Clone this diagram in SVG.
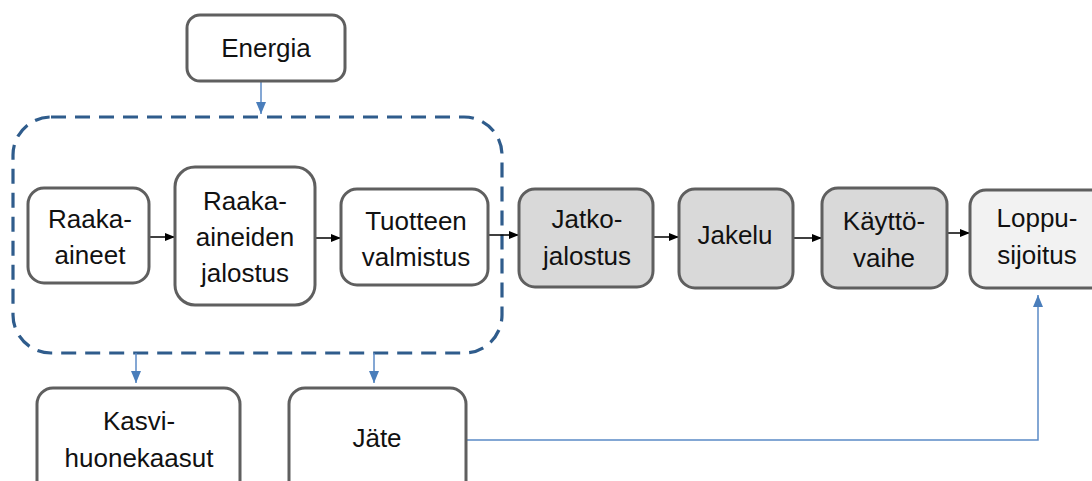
<svg xmlns="http://www.w3.org/2000/svg" width="1092" height="481" viewBox="0 0 1092 481">
<defs>
<style>
.box{stroke:#5f5f5f;stroke-width:3;}
.w{fill:#ffffff;}
.g{fill:#d9d9d9;}
.l{fill:#f2f2f2;}
text{font-family:"Liberation Sans",Arial,sans-serif;font-size:26px;fill:#111;text-anchor:middle;}
.blk{stroke:#000;stroke-width:1.5;fill:none;}
.blu{stroke:#5b8ac6;stroke-width:1.5;fill:none;}
</style>
<marker id="ab" markerUnits="userSpaceOnUse" markerWidth="10" markerHeight="10" viewBox="0 0 10 10" refX="10" refY="5" orient="auto">
<path d="M0,1 L10,5 L0,9 Z" fill="#000"/>
</marker>
<marker id="au" markerUnits="userSpaceOnUse" markerWidth="12" markerHeight="12" viewBox="0 0 12 12" refX="12" refY="6" orient="auto">
<path d="M0,1 L12,6 L0,11 Z" fill="#4a7ebb"/>
</marker>
</defs>
<rect width="1092" height="481" fill="#fff"/>
<g id="boundary">
<rect x="13" y="117" width="489" height="236" rx="38" ry="38" fill="none" stroke="#2f5c8c" stroke-width="3.2" stroke-dasharray="15 9"/>
</g>
<g id="connectors">
<line class="blu" x1="261" y1="81" x2="261" y2="114" marker-end="url(#au)"/>
<line class="blu" x1="136" y1="353" x2="136" y2="383" marker-end="url(#au)"/>
<line class="blu" x1="374" y1="353" x2="374" y2="383" marker-end="url(#au)"/>
<polyline class="blu" points="466,440 1038,440 1038,295" marker-end="url(#au)"/>
<line class="blk" x1="149" y1="237" x2="175" y2="237" marker-end="url(#ab)"/>
<line class="blk" x1="315" y1="238" x2="341" y2="238" marker-end="url(#ab)"/>
<line class="blk" x1="488" y1="235" x2="519" y2="235" marker-end="url(#ab)"/>
<line class="blk" x1="653" y1="237" x2="679" y2="237" marker-end="url(#ab)"/>
<line class="blk" x1="793" y1="238" x2="822" y2="238" marker-end="url(#ab)"/>
<line class="blk" x1="947" y1="233" x2="970" y2="233" marker-end="url(#ab)"/>
</g>
<g id="energia">
<rect class="box w" x="187" y="15" width="158" height="66" rx="13"/>
<text x="266" y="57">Energia</text>
</g>
<g id="raaka-aineet">
<rect class="box w" x="28" y="188" width="121" height="95" rx="16"/>
<text x="90" y="228">Raaka-</text>
<text x="90" y="264">aineet</text>
</g>
<g id="raaka-aineiden-jalostus">
<rect class="box w" x="175" y="167" width="140" height="138" rx="20"/>
<text x="245" y="210">Raaka-</text>
<text x="245" y="246">aineiden</text>
<text x="245" y="282">jalostus</text>
</g>
<g id="tuotteen-valmistus">
<rect class="box w" x="341" y="189" width="147" height="96" rx="16"/>
<text x="416" y="230">Tuotteen</text>
<text x="416" y="266">valmistus</text>
</g>
<g id="jatkojalostus">
<rect class="box g" x="519" y="189" width="134" height="98" rx="16"/>
<text x="587" y="228">Jatko-</text>
<text x="587" y="265">jalostus</text>
</g>
<g id="jakelu">
<rect class="box g" x="679" y="189" width="114" height="99" rx="16"/>
<text x="735" y="244">Jakelu</text>
</g>
<g id="kayttovaihe">
<rect class="box g" x="822" y="188" width="125" height="100" rx="16"/>
<text x="884" y="230">Käyttö-</text>
<text x="884" y="267">vaihe</text>
</g>
<g id="loppusijoitus">
<rect class="box l" x="970" y="190" width="140" height="98" rx="16"/>
<text x="1037" y="227">Loppu-</text>
<text x="1037" y="264">sijoitus</text>
</g>
<g id="kasvihuonekaasut">
<rect class="box w" x="37" y="388" width="203" height="110" rx="16"/>
<text x="139" y="430">Kasvi-</text>
<text x="139" y="467">huonekaasut</text>
</g>
<g id="jate">
<rect class="box w" x="289" y="388" width="177" height="110" rx="16"/>
<text x="377" y="447">Jäte</text>
</g>
</svg>
